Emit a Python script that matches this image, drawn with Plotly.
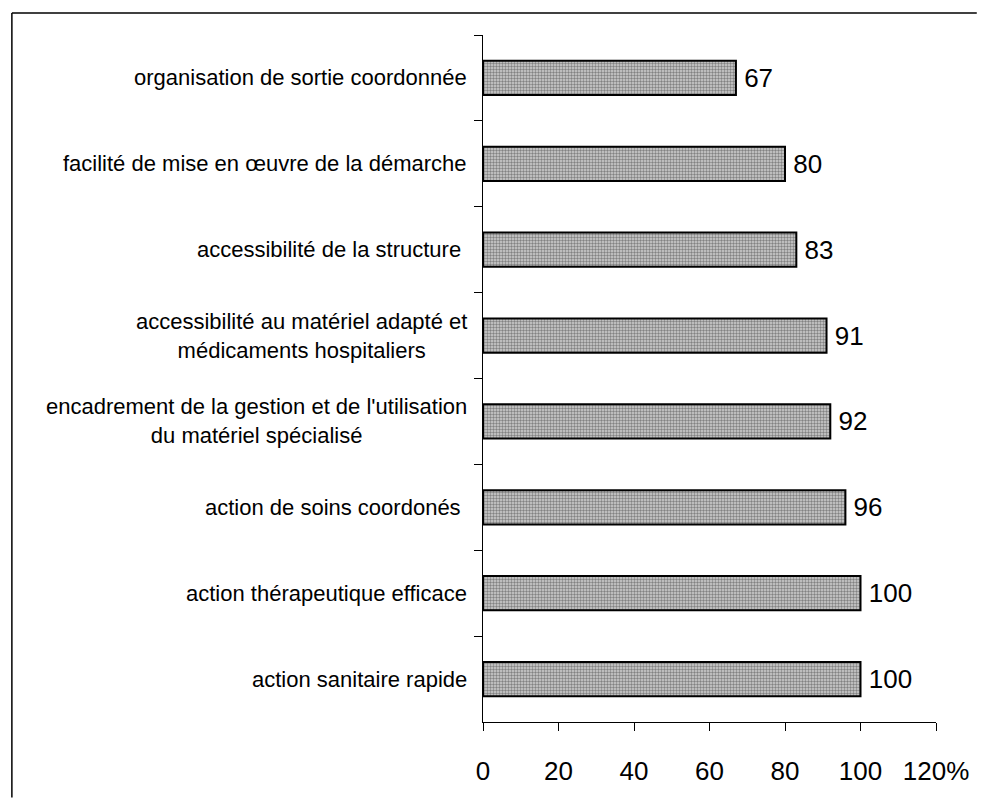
import plotly.graph_objects as go

# data, listed top to bottom as in the chart
categories = [
    "organisation de sortie coordonnée",
    "facilité de mise en œuvre de la démarche",
    "accessibilité de la structure ",
    "accessibilité au matériel adapté et<br>médicaments hospitaliers",
    "encadrement de la gestion et de l'utilisation<br>du matériel spécialisé",
    "action de soins coordonés ",
    "action thérapeutique efficace",
    "action sanitaire rapide",
]
values = [67, 80, 83, 91, 92, 96, 100, 100]
tick_vals = [0, 20, 40, 60, 80, 100, 120]
tick_text = ["0", "20", "40", "60", "80", "100", "120%"]

FONT = "Liberation Sans, Arial, sans-serif"

fig = go.Figure()

fig.add_trace(go.Bar(
    x=values,
    y=categories,
    orientation='h',
    width=0.4,
    marker=dict(
        color='#a8a8a8',
        line=dict(color='black', width=2),
        pattern=dict(shape='.', size=3, solidity=0.5,
                     fgcolor='#333333', bgcolor='#d0d0d0'),
    ),
    text=values,
    textposition='outside',
    texttemplate='\u2009%{x}',
    textfont=dict(size=26, color='black', family=FONT),
    cliponaxis=False,
    showlegend=False,
))

# category labels as annotations so two-line labels are centred
for cat in categories:
    fig.add_annotation(
        x=0, xref='paper', y=cat, yref='y',
        text=cat,
        showarrow=False, xanchor='right', align='center',
        xshift=-14,
        font=dict(size=22, color='black', family=FONT),
    )

# outer frame: only the left and top edges show in the scan
fig.add_shape(type='line', xref='paper', yref='paper',
              x0=-1.04, x1=-1.04, y0=-0.11, y1=1.032,
              line=dict(color='black', width=1.5))
fig.add_shape(type='line', xref='paper', yref='paper',
              x0=-1.04, x1=1.09, y0=1.032, y1=1.032,
              line=dict(color='black', width=1.5))

fig.update_layout(
    width=973, height=790,
    paper_bgcolor='white', plot_bgcolor='white',
    margin=dict(l=475, r=43, t=27, b=73),
    bargap=0.6,
    font=dict(family=FONT, color='black'),
    xaxis=dict(
        range=[0, 120],
        tickvals=tick_vals, ticktext=tick_text,
        showline=True, linecolor='black', linewidth=1,
        ticks='outside', ticklen=8, tickcolor='black',
        showgrid=False, zeroline=False,
        tickfont=dict(size=26, family=FONT),
        ticklabelstandoff=18,
    ),
    yaxis=dict(
        autorange='reversed',
        showline=True, linecolor='black', linewidth=1,
        ticks='outside', ticklen=8, tickcolor='black',
        tickson='boundaries',
        showticklabels=False, showgrid=False,
    ),
)

fig.write_html("out.html")
